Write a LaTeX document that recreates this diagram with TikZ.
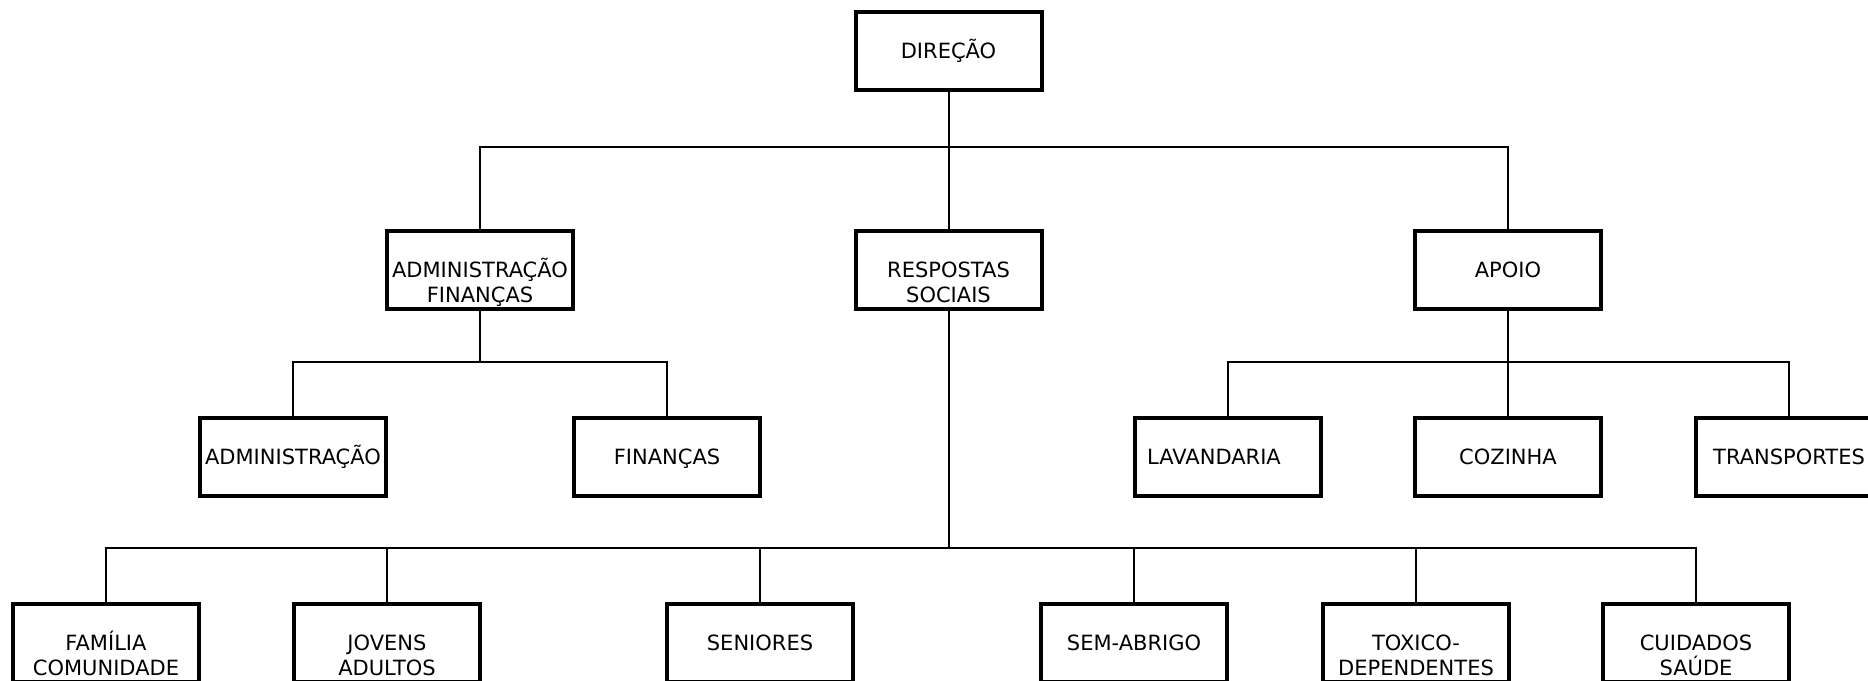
\documentclass[tikz,border=0pt]{standalone}
\usepackage{fontspec}
\setmainfont{DejaVu Sans}
\newcommand{\mystrut}{\rule[-5pt]{0pt}{25pt}}
\newcommand{\twolines}[2]{\mystrut\\\mystrut #1\\\mystrut #2}
\begin{document}
\begin{tikzpicture}[x=1pt,y=-1pt,
  orgbox/.style={draw=black,line width=4pt,rectangle,minimum width=186pt,minimum height=78pt,
    inner sep=0pt,align=center,font={\fontsize{21}{25}\selectfont}},
  link/.style={draw=black,line width=2pt}]
\useasboundingbox[fill=white] (0,0) rectangle (1868,680);
% level 0
\node[orgbox] (DIR) at (948.5,51) {\mystrut DIREÇÃO};
% level 1
\node[orgbox] (ADMFIN) at (480,270) {\twolines{ADMINISTRAÇÃO}{FINANÇAS}};
\node[orgbox] (RESP) at (948.5,270) {\twolines{RESPOSTAS}{SOCIAIS}};
\node[orgbox] (APOIO) at (1508,270) {\mystrut APOIO};
% level 2
\node[orgbox] (ADM) at (293,456.5) {\mystrut ADMINISTRAÇÃO};
\node[orgbox] (FIN) at (667,456.5) {\mystrut FINANÇAS};
\node[orgbox,align=none] (LAV) at (1228,456.5) {\mystrut LAVANDARIA\hspace*{28pt}};
\node[orgbox] (COZ) at (1508,456.5) {\mystrut COZINHA};
\node[orgbox] (TRANS) at (1789,456.5) {\mystrut TRANSPORTES};
% level 3
\node[orgbox] (FAM) at (106,643) {\twolines{FAMÍLIA}{COMUNIDADE}};
\node[orgbox] (JOV) at (387,643) {\twolines{JOVENS}{ADULTOS}};
\node[orgbox] (SEN) at (760,643) {\twolines{SENIORES}{}};
\node[orgbox] (SEM) at (1134,643) {\twolines{SEM-ABRIGO}{}};
\node[orgbox] (TOX) at (1416,643) {\twolines{TOXICO-}{DEPENDENTES}};
\node[orgbox] (CUI) at (1696,643) {\twolines{CUIDADOS}{SAÚDE}};
% buses
\coordinate (b1) at (948.5,146.5);
\coordinate (b2) at (480,362);
\coordinate (b3) at (1508,362);
\coordinate (b4) at (948.5,548);
% connectors
\draw[link] (DIR.south) -- (RESP.north);
\draw[link] (ADMFIN.north) |- (b1) -| (APOIO.north);
\draw[link] (ADMFIN.south) -- (b2);
\draw[link] (ADM.north) |- (b2) -| (FIN.north);
\draw[link] (APOIO.south) -- (COZ.north);
\draw[link] (LAV.north) |- (b3) -| (TRANS.north);
\draw[link] (RESP.south) -- (b4);
\draw[link] (FAM.north) |- (b4) -| (CUI.north);
\draw[link] (JOV.north) -- (JOV.north |- b4);
\draw[link] (SEN.north) -- (SEN.north |- b4);
\draw[link] (SEM.north) -- (SEM.north |- b4);
\draw[link] (TOX.north) -- (TOX.north |- b4);
\end{tikzpicture}
\end{document}
